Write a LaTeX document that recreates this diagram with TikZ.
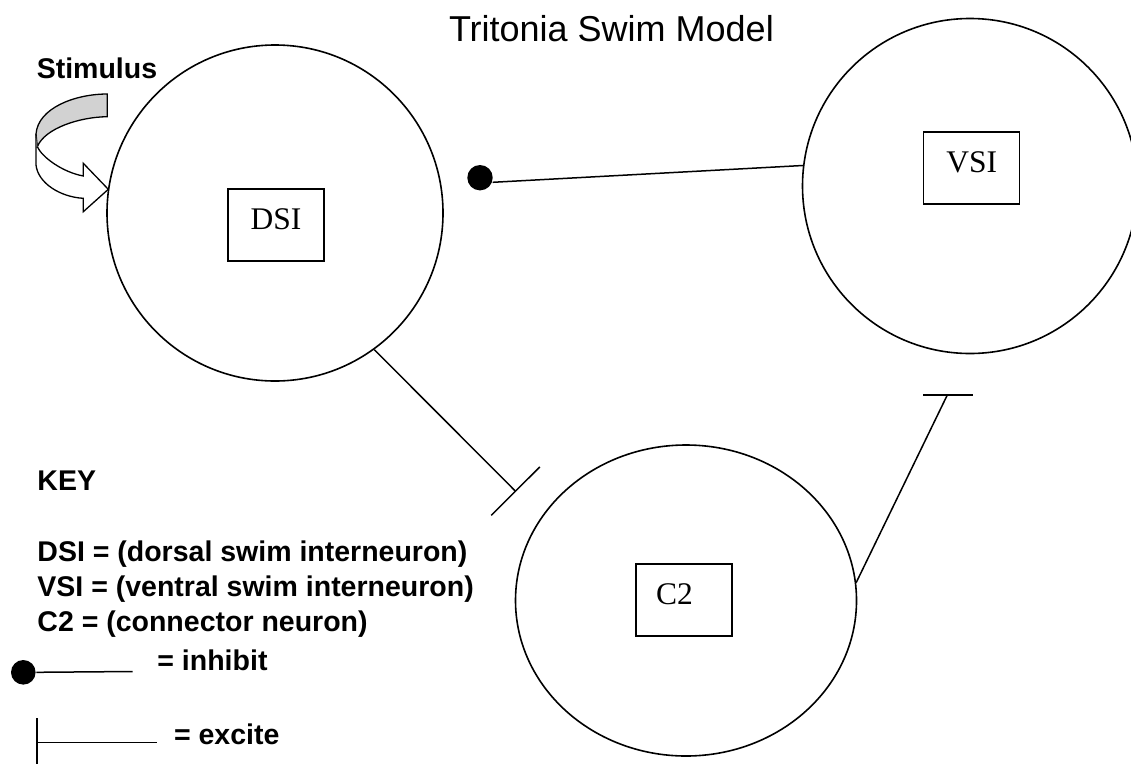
\documentclass[tikz,border=0pt]{standalone}
\usepackage{fontspec}
\setmainfont{Liberation Sans}
\newfontfamily\boxserif{Liberation Serif}
\usetikzlibrary{shapes.geometric,arrows.meta}
\begin{document}
\begin{tikzpicture}[x=1pt,y=-1pt,line width=1.5pt,
  neuron/.style={draw,circle,inner sep=0pt,line width=1.6pt},
  namebox/.style={draw,rectangle,minimum width=96pt,minimum height=72pt,inner sep=0pt,
    text depth=11pt,font=\boxserif\fontsize{31.5}{36}\selectfont},
  lbl/.style={anchor=base west,inner sep=0pt,font=\bfseries\fontsize{28.5}{34}\selectfont},
  excitelink/.style={-{Bar[width=#1,line width=1.5pt]}},
  dotnode/.style={circle,fill=black,inner sep=0pt,minimum size=#1}
]
\useasboundingbox (0,0) rectangle (1131,763);

% title
\node[anchor=base west,inner sep=0pt,font=\fontsize{36}{43}\selectfont] (title) at (448.3,41.7) {Tritonia Swim Model};

% neurons
\node[neuron,minimum size=336pt] (dsi) at (275,213) {};
\node[neuron,minimum size=335pt] (vsi) at (970,186) {};
\node[draw,ellipse,inner sep=0pt,line width=1.6pt,minimum width=341pt,minimum height=311pt] (c2) at (686,600.5) {};

\node[namebox] (dsibox) at (276,225) {DSI};
\node[namebox] (vsibox) at (971.7,168) {VSI};
\node[namebox] (c2box) at (684,600) {\makebox[56pt][l]{C2}};

% stimulus
\node[lbl] (stim) at (36,78.3) {Stimulus};
\draw[line width=1.3pt,fill=gray!35] (107.3,94) .. controls (75,94) and (38,108) .. (36,134)
  -- (37.3,146.7) .. controls (45,128) and (80,117) .. (107.3,116.7) -- cycle;
\draw[line width=1.3pt,fill=white,line join=miter] (37.3,146.7) .. controls (42,157) and (62,172) .. (83.3,176)
  -- (83.3,163.3) -- (108.3,189.3) -- (83.3,211.7) -- (83.3,198.3)
  .. controls (60,197) and (38,183) .. (36,165) -- (36,134);

% inhibit VSI -> DSI
\node[dotnode=25.4pt] (inhdot) at (480,177.7) {};
\draw (vsi.173) -- (inhdot.-20);

% excite DSI -> C2
\coordinate (exc1) at (516,491.7);
\draw[excitelink=68.6pt] (dsi.-54) -- (exc1);

% excite C2 -> VSI (horizontal bar)
\coordinate (exc2) at (947.3,395);
\coordinate (exc2l) at (923.3,395);
\coordinate (exc2r) at (972.7,395);
\draw (c2.6) -- (exc2);
\draw (exc2l) -- (exc2r);

% key
\node[lbl] (key) at (36.7,490) {KEY};
\node[lbl] (k1) at (36.7,561.7) {DSI = (dorsal swim interneuron)};
\node[lbl] (k2) at (36.7,596.5) {VSI = (ventral swim interneuron)};
\node[lbl] (k3) at (36.7,631.7) {C2 = (connector neuron)};
\node[dotnode=24.6pt] (keydot) at (23.3,672.3) {};
\coordinate (keyinhend) at (132.7,671.5);
\draw (keydot.east) -- (keyinhend);
\node[lbl] (kinh) at (156.7,670.7) {= inhibit};
\coordinate (keyexa) at (36,742.7);
\coordinate (keyexb) at (156.7,742.7);
\draw[{Bar[width=49pt,line width=1.5pt]}-] (keyexa) -- (keyexb);
\node[lbl] (kexc) at (173.3,744) {= excite};
\end{tikzpicture}
\end{document}
